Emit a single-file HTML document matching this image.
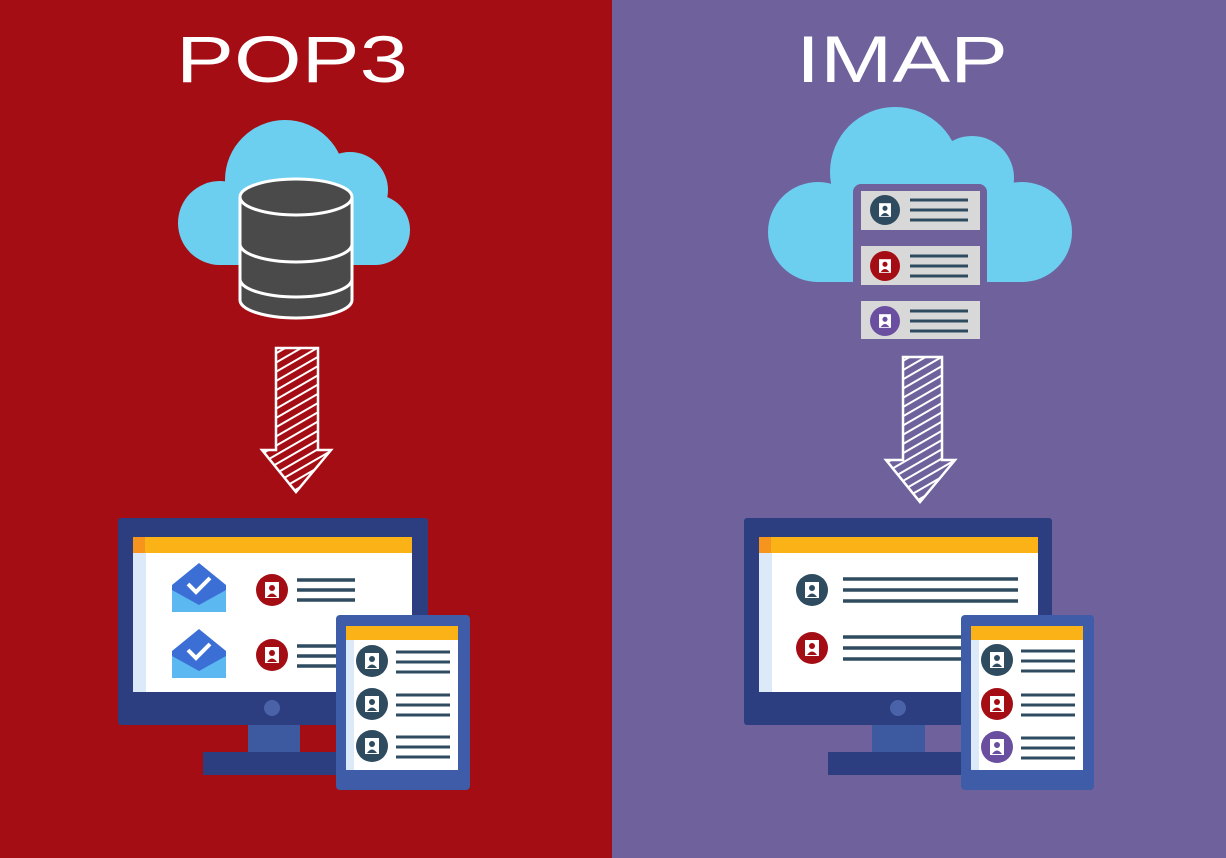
<!DOCTYPE html>
<html><head><meta charset="utf-8"><style>html,body{margin:0;padding:0;}svg{display:block}</style></head>
<body>
<svg width="1226" height="858" viewBox="0 0 1226 858" xmlns="http://www.w3.org/2000/svg">
<defs>
<g id="person"><rect x="-7" y="-8" width="14" height="16" fill="#fff"/><circle cx="0" cy="-2" r="3" fill="currentColor"/><path d="M-5 7 Q0 0 5 7Z" fill="currentColor"/></g>
<pattern id="hatch" width="8" height="8" patternUnits="userSpaceOnUse" patternTransform="rotate(-30)"><line x1="0" y1="4" x2="8" y2="4" stroke="#fff" stroke-width="2"/></pattern>
</defs>
<rect x="0" y="0" width="612" height="858" fill="#a50d14"/>
<rect x="612" y="0" width="614" height="858" fill="#6f629c"/>
<text x="292" y="82" text-anchor="middle" font-family="Liberation Sans, sans-serif" font-size="66" fill="#fff" textLength="232" lengthAdjust="spacingAndGlyphs">POP3</text>
<text x="902" y="82" text-anchor="middle" font-family="Liberation Sans, sans-serif" font-size="66" fill="#fff" textLength="212" lengthAdjust="spacingAndGlyphs">IMAP</text>

<!-- left cloud -->
<g fill="#6dcff0">
<circle cx="220" cy="223" r="42"/><circle cx="285" cy="180" r="60"/><circle cx="350" cy="190" r="38"/><circle cx="375" cy="230" r="35"/>
<rect x="220" y="200" width="155" height="65"/>
</g>
<!-- database -->
<g stroke="#fff" stroke-width="3" fill="#4a4a4a">
<path d="M240 197 V300 A56 18 0 0 0 352 300 V197"/>
<path d="M240 244 A56 18 0 0 0 352 244" fill="none"/>
<path d="M240 279 A56 18 0 0 0 352 279" fill="none"/>
<ellipse cx="296" cy="197" rx="56" ry="18"/>
</g>

<!-- arrows -->
<g stroke="#fff" stroke-width="2.5" fill="url(#hatch)">
<path d="M276 348 H318 V450 H331 L296 492 L262 450 H276Z"/>
<path d="M903 357 H942 V460 H955 L920 502 L886 460 H903Z"/>
</g>

<!-- left monitor -->
<rect x="118" y="518" width="310" height="207" rx="3" fill="#2d3e80"/>
<rect x="133" y="537" width="279" height="155" fill="#fff"/>
<rect x="133" y="537" width="279" height="16" fill="#fbb217"/>
<rect x="133" y="537" width="12" height="16" fill="#f7941d"/>
<rect x="133" y="553" width="13" height="139" fill="#dbe9f8"/>
<circle cx="272" cy="708" r="8" fill="#4a63a8"/>
<rect x="248" y="725" width="52" height="27" fill="#3d5aa0"/>
<rect x="203" y="752" width="137" height="23" fill="#2d3e80"/>
<g id="env">
<path d="M172 585 L199 563 L226 585 V612 H172Z" fill="#3b6fd6"/>
<path d="M172 590 L199 605 L226 590 V612 H172Z" fill="#5bb8f0"/>
<path d="M188 584 l8 8 l14 -14" stroke="#fff" stroke-width="4" fill="none"/>
</g>
<use href="#env" transform="translate(0,66)"/>
<g color="#a50d14"><circle cx="272" cy="590" r="16" fill="#a50d14"/><use href="#person" transform="translate(272,590)"/>
<circle cx="272" cy="655" r="16" fill="#a50d14"/><use href="#person" transform="translate(272,655)"/></g>
<g stroke="#2e4b5f" stroke-width="3.5">
<line x1="297" y1="580" x2="355" y2="580"/><line x1="297" y1="590" x2="355" y2="590"/><line x1="297" y1="600" x2="355" y2="600"/>
<line x1="297" y1="646" x2="355" y2="646"/><line x1="297" y1="656" x2="355" y2="656"/><line x1="297" y1="666" x2="355" y2="666"/>
</g>
<!-- left tablet -->
<rect x="336" y="615" width="134" height="175" rx="4" fill="#3f5ca8"/>
<rect x="346" y="626" width="112" height="144" fill="#fff"/>
<rect x="346" y="626" width="112" height="14" fill="#fbb217"/>
<rect x="346" y="640" width="8" height="130" fill="#dbe9f8"/>
<g color="#2e4b5f">
<circle cx="372" cy="661" r="16" fill="#2e4b5f"/><use href="#person" transform="translate(372,661)"/>
<circle cx="372" cy="704" r="16" fill="#2e4b5f"/><use href="#person" transform="translate(372,704)"/>
<circle cx="372" cy="746" r="16" fill="#2e4b5f"/><use href="#person" transform="translate(372,746)"/>
</g>
<g stroke="#2e4b5f" stroke-width="3">
<line x1="396" y1="652" x2="450" y2="652"/><line x1="396" y1="662" x2="450" y2="662"/><line x1="396" y1="672" x2="450" y2="672"/>
<line x1="396" y1="695" x2="450" y2="695"/><line x1="396" y1="705" x2="450" y2="705"/><line x1="396" y1="715" x2="450" y2="715"/>
<line x1="396" y1="737" x2="450" y2="737"/><line x1="396" y1="747" x2="450" y2="747"/><line x1="396" y1="757" x2="450" y2="757"/>
</g>

<!-- right cloud -->
<g fill="#6dcff0">
<circle cx="818" cy="232" r="50"/><circle cx="895" cy="172" r="65"/><circle cx="972" cy="178" r="42"/><circle cx="1022" cy="232" r="50"/>
<rect x="818" y="200" width="204" height="82"/>
</g>
<rect x="853" y="184" width="134" height="108" rx="8" fill="#6f629c"/>
<rect x="853" y="295" width="134" height="50" rx="6" fill="#6f629c"/>
<g fill="#d8d8d8">
<rect x="861" y="191" width="119" height="39"/><rect x="861" y="246" width="119" height="39"/><rect x="861" y="301" width="119" height="38"/>
</g>
<circle cx="885" cy="210" r="15" fill="#2e4b5f"/><g color="#2e4b5f"><use href="#person" transform="translate(885,210) scale(0.85)"/></g>
<circle cx="885" cy="266" r="15" fill="#a50d14"/><g color="#a50d14"><use href="#person" transform="translate(885,266) scale(0.85)"/></g>
<circle cx="885" cy="321" r="15" fill="#6a4fa0"/><g color="#6a4fa0"><use href="#person" transform="translate(885,321) scale(0.85)"/></g>
<g stroke="#2e4b5f" stroke-width="3">
<line x1="910" y1="200" x2="968" y2="200"/><line x1="910" y1="210" x2="968" y2="210"/><line x1="910" y1="220" x2="968" y2="220"/>
<line x1="910" y1="256" x2="968" y2="256"/><line x1="910" y1="266" x2="968" y2="266"/><line x1="910" y1="276" x2="968" y2="276"/>
<line x1="910" y1="311" x2="968" y2="311"/><line x1="910" y1="321" x2="968" y2="321"/><line x1="910" y1="331" x2="968" y2="331"/>
</g>

<!-- right monitor -->
<rect x="744" y="518" width="308" height="207" rx="3" fill="#2d3e80"/>
<rect x="759" y="537" width="279" height="155" fill="#fff"/>
<rect x="759" y="537" width="279" height="16" fill="#fbb217"/>
<rect x="759" y="537" width="12" height="16" fill="#f7941d"/>
<rect x="759" y="553" width="13" height="139" fill="#dbe9f8"/>
<circle cx="898" cy="708" r="8" fill="#4a63a8"/>
<rect x="872" y="725" width="53" height="27" fill="#3d5aa0"/>
<rect x="828" y="752" width="137" height="23" fill="#2d3e80"/>
<circle cx="812" cy="590" r="16" fill="#2e4b5f"/><g color="#2e4b5f"><use href="#person" transform="translate(812,590)"/></g>
<circle cx="812" cy="648" r="16" fill="#a50d14"/><g color="#a50d14"><use href="#person" transform="translate(812,648)"/></g>
<g stroke="#2e4b5f" stroke-width="3.5">
<line x1="843" y1="579" x2="1018" y2="579"/><line x1="843" y1="590" x2="1018" y2="590"/><line x1="843" y1="601" x2="1018" y2="601"/>
<line x1="843" y1="637" x2="1018" y2="637"/><line x1="843" y1="648" x2="1018" y2="648"/><line x1="843" y1="659" x2="1018" y2="659"/>
</g>
<!-- right tablet -->
<rect x="961" y="615" width="133" height="175" rx="4" fill="#3f5ca8"/>
<rect x="971" y="626" width="112" height="144" fill="#fff"/>
<rect x="971" y="626" width="112" height="14" fill="#fbb217"/>
<rect x="971" y="640" width="8" height="130" fill="#dbe9f8"/>
<circle cx="997" cy="660" r="16" fill="#2e4b5f"/><g color="#2e4b5f"><use href="#person" transform="translate(997,660)"/></g>
<circle cx="997" cy="704" r="16" fill="#a50d14"/><g color="#a50d14"><use href="#person" transform="translate(997,704)"/></g>
<circle cx="997" cy="747" r="16" fill="#6a4fa0"/><g color="#6a4fa0"><use href="#person" transform="translate(997,747)"/></g>
<g stroke="#2e4b5f" stroke-width="3">
<line x1="1021" y1="651" x2="1075" y2="651"/><line x1="1021" y1="661" x2="1075" y2="661"/><line x1="1021" y1="671" x2="1075" y2="671"/>
<line x1="1021" y1="695" x2="1075" y2="695"/><line x1="1021" y1="705" x2="1075" y2="705"/><line x1="1021" y1="715" x2="1075" y2="715"/>
<line x1="1021" y1="738" x2="1075" y2="738"/><line x1="1021" y1="748" x2="1075" y2="748"/><line x1="1021" y1="758" x2="1075" y2="758"/>
</g>
</svg>
</body></html>
